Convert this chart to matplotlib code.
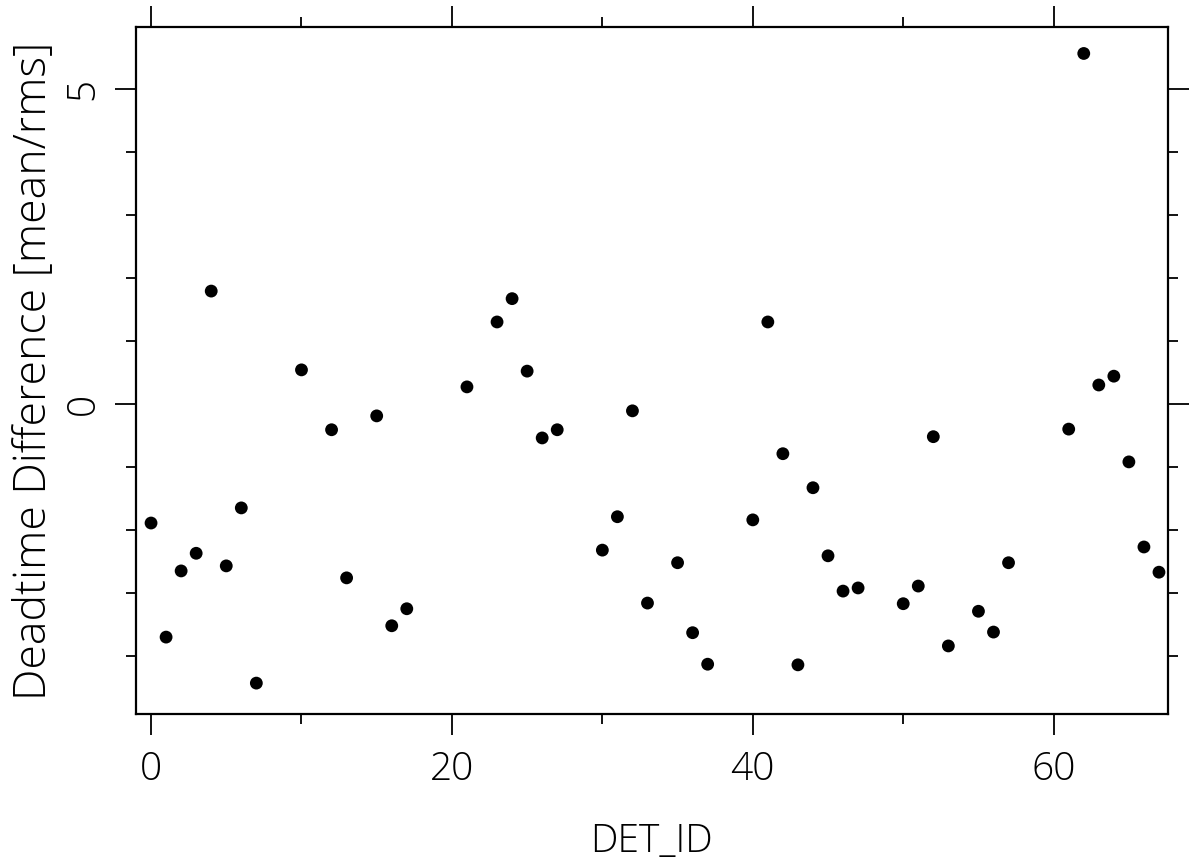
import matplotlib
matplotlib.use("Agg")
from matplotlib import pyplot as plt
import matplotlib.ticker as ticker

# DET_ID and value
det_id = [0, 1, 2, 3, 4, 5, 6, 7, 10, 12, 13, 15, 16, 17, 21, 23, 24, 25, 26, 27,
          30, 31, 32, 33, 35, 36, 37, 40, 41, 42, 43, 44, 45, 46, 47, 50, 51, 52,
          53, 55, 56, 57, 61, 62, 63, 64, 65, 66, 67]
dt_diff = [-1.89, -3.70, -2.65, -2.37, 1.79, -2.57, -1.65, -4.43, 0.54, -0.41,
           -2.76, -0.19, -3.52, -3.25, 0.27, 1.30, 1.67, 0.52, -0.54, -0.41,
           -2.32, -1.79, -0.11, -3.16, -2.52, -3.63, -4.13, -1.84, 1.30, -0.79,
           -4.14, -1.33, -2.41, -2.97, -2.92, -3.17, -2.89, -0.52, -3.84, -3.29,
           -3.62, -2.52, -0.40, 5.56, 0.30, 0.44, -0.92, -2.27, -2.67]

x_label = "DET_ID"
y_label = "Deadtime Difference [mean/rms]"

# thin font to get close to the PGPLOT look
plt.rcParams['font.family'] = ['Open Sans', 'DejaVu Sans']
plt.rcParams['font.weight'] = 300
plt.rcParams['axes.labelweight'] = 300

fig = plt.figure(figsize=(12, 8.59), dpi=100)
# axes box: x 136..1168, y 27..714 (pixels)
ax = fig.add_axes([136 / 1200, 1 - 714 / 859, (1168 - 136) / 1200, (714 - 27) / 859])

ax.scatter(det_id, dt_diff, s=85, c="black", edgecolors="none", zorder=5)

ax.set_xlim(-1, 67.6)
ax.set_ylim(-4.92, 5.98)

ax.xaxis.set_major_locator(ticker.MultipleLocator(20))
ax.xaxis.set_minor_locator(ticker.MultipleLocator(10))
ax.yaxis.set_major_locator(ticker.MultipleLocator(5))
ax.yaxis.set_minor_locator(ticker.MultipleLocator(1))

for sp in ax.spines.values():
    sp.set_linewidth(1.6)

ax.tick_params(which="both", direction="out", top=True, right=True,
               width=1.3, colors="black", labelsize=28)
ax.tick_params(which="major", length=15)
ax.tick_params(which="minor", length=7.5)
ax.tick_params(axis="x", which="major", pad=11)
ax.tick_params(axis="y", which="major", pad=9)
for lab in ax.get_yticklabels():
    lab.set_rotation(90)
    lab.set_va("center")

ax.set_xlabel(x_label, fontsize=28, fontweight=300, va="baseline")
ax.xaxis.set_label_coords(0.5, (714 - 852) / 687)
ax.set_ylabel(y_label, fontsize=32, fontweight=300, va="baseline")
ax.yaxis.set_label_coords((45 - 136) / 1032, 0.5)

plt.savefig("out.png", dpi=100)
